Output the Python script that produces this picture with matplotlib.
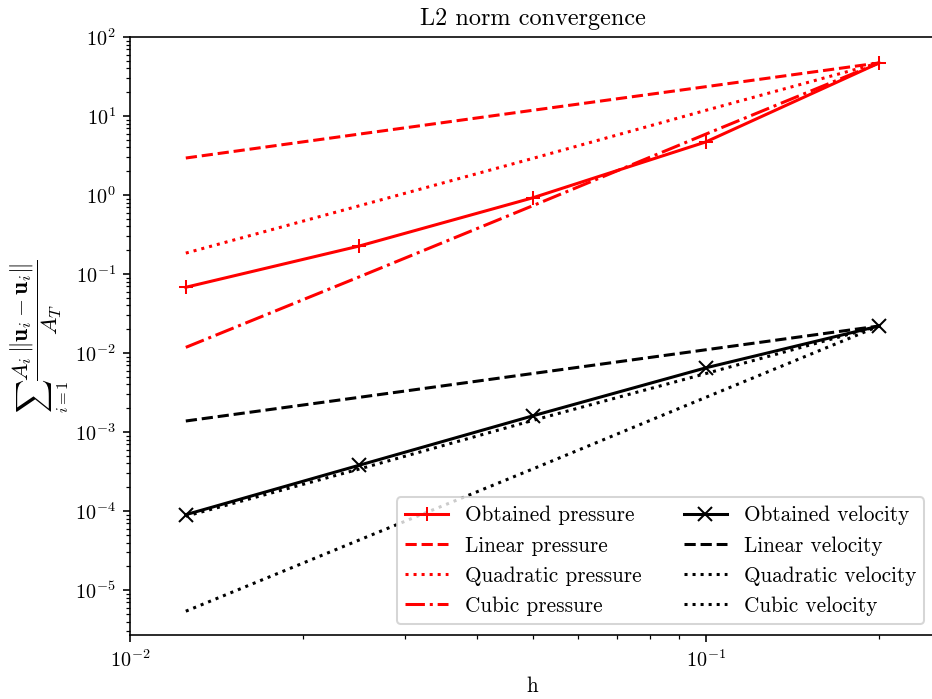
import numpy as np
import matplotlib
matplotlib.use("Agg")
import matplotlib.pyplot as plt

plt.rcParams['font.family'] = 'serif'
plt.rcParams['font.serif'] = ['cmr10', 'DejaVu Serif']
plt.rcParams['mathtext.fontset'] = 'cm'
plt.rcParams['axes.formatter.use_mathtext'] = True
plt.rcParams['font.size'] = 10

# mesh sizes
h = [0.0125, 0.025, 0.05, 0.1, 0.2]

# pressure errors
p_obtained = [0.068, 0.226, 0.92, 4.7, 47]
p_linear = [2.94, 5.9, 11.8, 23.5, 47]
p_quadratic = [0.184, 0.73, 2.9, 11.8, 47]
p_cubic = [0.0118, 0.092, 0.73, 5.9, 47]

# velocity errors
v_obtained = [9.0e-5, 3.8e-4, 1.6e-3, 6.5e-3, 0.022]
v_linear = [0.00138, 0.00275, 0.0055, 0.011, 0.022]
v_quadratic = [8.6e-5, 3.4e-4, 1.4e-3, 5.5e-3, 0.022]
v_cubic = [5.4e-6, 4.3e-5, 3.4e-4, 2.75e-3, 0.022]

fig = plt.figure(figsize=(6.4, 4.8), dpi=145.625)
ax = fig.add_axes([130/932, 64/699, 805/932, 598/699])

ax.loglog(h, p_obtained, 'r-+', markersize=7, label='Obtained pressure')
ax.loglog(h, p_linear, 'r--', label='Linear pressure')
ax.loglog(h, p_quadratic, 'r:', label='Quadratic pressure')
ax.loglog(h, p_cubic, 'r-.', label='Cubic pressure')
ax.loglog(h, v_obtained, 'k-x', markersize=7, label='Obtained velocity')
ax.loglog(h, v_linear, 'k--', label='Linear velocity')
ax.loglog(h, v_quadratic, 'k:', label='Quadratic velocity')
ax.loglog(h, v_cubic, 'k:', label='Cubic velocity')

ax.set_xlim(0.01, 0.25)
ax.set_ylim(2.7e-6, 100)
ax.set_title('L2 norm convergence', fontsize=12, pad=6)
ax.set_xlabel('h', fontsize=10.5, labelpad=3)
ax.set_ylabel(r'$\sum_{i=1}\dfrac{A_i\,\|\mathbf{u}_i-\mathbf{u}_i\|}{A_T}$', fontsize=11.5, labelpad=2)
ax.legend(loc='lower right', ncol=2, fontsize=10.5)

plt.savefig('out.png', dpi=145.625)
